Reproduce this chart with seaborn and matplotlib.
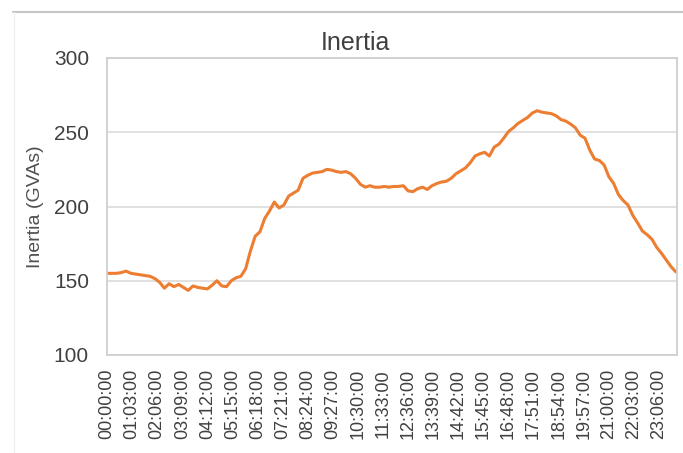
import numpy as np
import pandas as pd
import matplotlib
matplotlib.use("Agg")
import matplotlib.pyplot as plt
from matplotlib.lines import Line2D
import seaborn as sns

# ==========================================
# Data (one value every 12 minutes)
# ==========================================
STEP_MIN = 12
inertia_gvas = [
    155, 155, 155, 155.5, 156.5, 155, 154.5, 154, 153.5, 153,
    151.5, 149, 145, 148, 146, 147.5, 145.5, 143.5, 146.5, 145.5,
    145, 144.5, 147, 150, 146.5, 146, 150, 152, 153, 158,
    170, 180, 183, 192, 197, 203, 199, 201, 207, 209,
    211, 219, 221, 222.5, 223, 223.5, 225, 224.5, 223.5, 223,
    223.5, 222, 219, 215, 213, 214, 213, 213, 213.5, 213,
    213.5, 213.5, 214, 210.5, 210, 212, 213, 211.5, 214, 215.5,
    216.5, 217, 219, 222, 224, 226, 229.5, 234, 235.5, 236.5,
    234, 240, 242, 246, 250.5, 253, 256, 258, 260, 263,
    264.5, 263.5, 263, 262.5, 261, 258.5, 257.5, 255.5, 253, 248,
    246, 238, 232, 231, 228, 220, 215.5, 208, 204, 201,
    194, 189, 183.5, 181, 178, 172.5, 168.5, 164, 159.5, 156,
]
tick_labels = [
    "00:00:00", "01:03:00", "02:06:00", "03:09:00", "04:12:00", "05:15:00",
    "06:18:00", "07:21:00", "08:24:00", "09:27:00", "10:30:00", "11:33:00",
    "12:36:00", "13:39:00", "14:42:00", "15:45:00", "16:48:00", "17:51:00",
    "18:54:00", "19:57:00", "21:00:00", "22:03:00", "23:06:00",
]
y_ticks = [100, 150, 200, 250, 300]

ORANGE = "#ED7D31"
GRID = "#dedede"
TEXT = "#404040"

df = pd.DataFrame({
    "minute": np.arange(len(inertia_gvas)) * STEP_MIN,
    "inertia": inertia_gvas,
})

sns.set_theme(style="white")
plt.rcParams["font.family"] = ["Liberation Sans", "DejaVu Sans"]

fig = plt.figure(figsize=(6.83, 4.53), dpi=100)
ax = fig.add_axes([107 / 683, 1 - 355 / 453, 570 / 683, 297 / 453])

sns.lineplot(data=df, x="minute", y="inertia", color=ORANGE, linewidth=2.2, ax=ax)

ax.set_xlim(0, 1431)
ax.set_ylim(100, 300)
ax.set_yticks(y_ticks)
ax.set_xticks(np.arange(len(tick_labels)) * 63)
ax.set_xticklabels(tick_labels, rotation=90, fontsize=13, color=TEXT)
ax.tick_params(axis="y", labelsize=15, labelcolor=TEXT, length=0, pad=13)
ax.tick_params(axis="x", length=0, pad=10)

ax.grid(axis="y", color=GRID, linewidth=1.3)
for side in ax.spines.values():
    side.set_color("#cfcfcf")
    side.set_linewidth(1.3)

ax.set_xlabel("")
ax.set_ylabel("Inertia (GVAs)", fontsize=14, color="#505050", labelpad=7)

fig.text(355 / 683, 1 - 50 / 453, "Inertia", fontsize=18, color=TEXT,
         ha="center", va="baseline")

# outer chart frame (top edge and faint left edge)
fig.add_artist(Line2D([13 / 683, 1], [1 - 12 / 453, 1 - 12 / 453],
                      transform=fig.transFigure, color="#c4c4c4", linewidth=1.5))
fig.add_artist(Line2D([14 / 683, 14 / 683], [0, 1 - 12 / 453],
                      transform=fig.transFigure, color="#f0f0f0", linewidth=1.0))

fig.savefig("out.png", dpi=100)
